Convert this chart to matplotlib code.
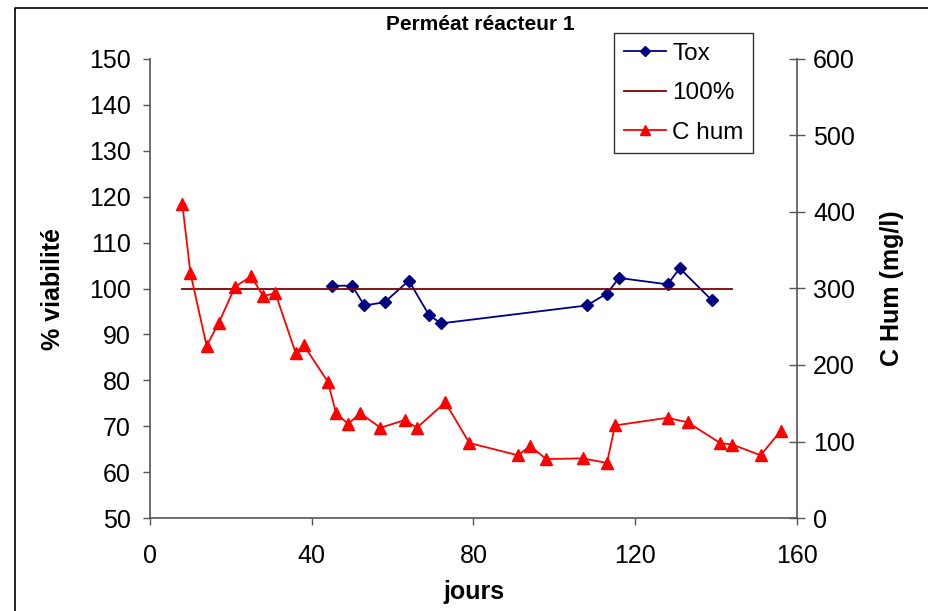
import matplotlib
matplotlib.use("Agg")
import matplotlib.pyplot as plt
from matplotlib.lines import Line2D

plt.rcParams['font.family'] = ['Liberation Sans', 'DejaVu Sans']

# data
tox_days = [45, 50, 53, 58, 64, 69, 72, 108, 113, 116, 128, 131, 139]
tox_vals = [100.6, 100.6, 96.3, 97.0, 101.7, 94.2, 92.4, 96.3, 98.9, 102.3, 100.9, 104.4, 97.4]

ref_days = [8, 144]
ref_vals = [100, 100]

chum_days = [8, 10, 14, 17, 21, 25, 28, 31, 36, 38, 44, 46, 49, 52, 57, 63, 66,
             73, 79, 91, 94, 98, 107, 113, 115, 128, 133, 141, 144, 151, 156]
chum_vals = [410, 320, 225, 255, 302, 316, 290, 294, 216, 226, 178, 137, 123, 137, 118, 128, 118,
             151, 98, 82, 94, 77, 78, 72, 121, 131, 125, 98, 96, 82, 114]

x_ticks = [0, 40, 80, 120, 160]
y_ticks = list(range(50, 151, 10))
y2_ticks = list(range(0, 601, 100))

W, H = 929, 611
fig = plt.figure(figsize=(W / 100, H / 100), dpi=100)
ax = fig.add_axes([150 / W, 1 - 518 / H, (797 - 150) / W, (518 - 59) / H])
ax2 = ax.twinx()

spine_col = '#555555'

l_tox, = ax.plot(tox_days, tox_vals, color='#000080', marker='D', markersize=6.5,
                 linewidth=1.3, label='Tox')
l_ref, = ax.plot(ref_days, ref_vals, color='#800000', linewidth=1.3, label='100%')
l_chum, = ax2.plot(chum_days, chum_vals, color='#FF0000', marker='^', markersize=8.5,
                   linewidth=1.3, label='C hum')

ax.set_xlim(0, 160)
ax.set_ylim(50, 150)
ax2.set_ylim(0, 600)
ax.set_xticks(x_ticks)
ax.set_yticks(y_ticks)
ax2.set_yticks(y2_ticks)

for a in (ax, ax2):
    a.spines['top'].set_visible(False)
    for s in a.spines.values():
        s.set_color(spine_col)
        s.set_linewidth(1.2)
ax.spines['right'].set_visible(False)
ax2.spines['left'].set_visible(False)
ax2.spines['bottom'].set_visible(False)

ax.tick_params(axis='both', direction='out', length=5, width=1, color=spine_col,
               labelsize=18)
ax.tick_params(axis='y', pad=9)
ax.tick_params(axis='x', pad=14)
ax2.tick_params(axis='y', direction='inout', length=11, width=1, color=spine_col,
                labelsize=18, pad=6)

ax.set_ylabel('% viabilité', fontsize=18, fontweight='bold')
ax.yaxis.set_label_coords(-0.132, 0.5)
ax2.set_ylabel('C Hum (mg/l)', fontsize=18, fontweight='bold')
ax2.yaxis.set_label_coords(1.128, 0.5)
ax.set_xlabel('jours', fontsize=18, fontweight='bold')
ax.xaxis.set_label_coords(0.5, -0.135)

fig.text(480 / W, 1 - 25 / H, 'Perméat réacteur 1', fontsize=15, fontweight='bold',
         ha='center', va='center')

leg = ax2.legend(handles=[l_tox, l_ref, l_chum], loc='upper left',
                 bbox_to_anchor=(614 / W, 1 - 33 / H), bbox_transform=fig.transFigure,
                 borderaxespad=0, fontsize=17.5, frameon=True, fancybox=False,
                 edgecolor='black', handlelength=1.75, handletextpad=0.25,
                 labelspacing=0.72, borderpad=0.4, markerscale=0.8)
leg.get_frame().set_linewidth(1.0)

# chart area border (top and left edges visible in the crop)
fig.add_artist(Line2D([15 / W, 15 / W, 1.0], [0.0, 1 - 8 / H, 1 - 8 / H],
                      transform=fig.transFigure, color='black', linewidth=1.2))

fig.savefig('out.png', dpi=100)
